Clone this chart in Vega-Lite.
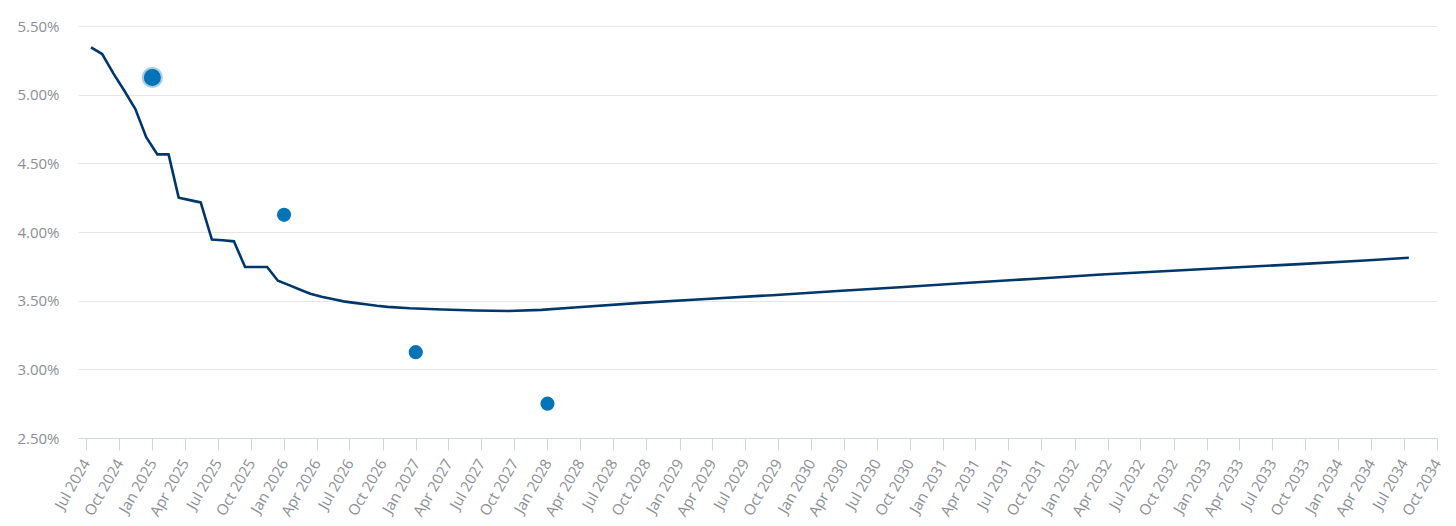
{
  "$schema": "https://vega.github.io/schema/vega-lite/v6.json",
  "width": 1359,
  "height": 412,
  "autosize": {"type": "none"},
  "padding": {"left": 78, "top": 26, "right": 19, "bottom": 88},
  "background": "white",
  "config": {
    "view": {"stroke": null},
    "font": "Open Sans",
    "axis": {"labelFont": "Open Sans", "labelFontSize": 15, "labelColor": "#8c8f96"}
  },
  "datasets": {
    "curve": [
      {"date": "2024-07-15", "rate": 5.345},
      {"date": "2024-08-15", "rate": 5.296},
      {"date": "2024-09-15", "rate": 5.155},
      {"date": "2024-10-15", "rate": 5.03},
      {"date": "2024-11-15", "rate": 4.895},
      {"date": "2024-12-15", "rate": 4.69},
      {"date": "2025-01-15", "rate": 4.565},
      {"date": "2025-02-15", "rate": 4.565},
      {"date": "2025-03-15", "rate": 4.25},
      {"date": "2025-04-15", "rate": 4.232},
      {"date": "2025-05-15", "rate": 4.215},
      {"date": "2025-06-15", "rate": 3.945},
      {"date": "2025-07-15", "rate": 3.94},
      {"date": "2025-08-15", "rate": 3.932},
      {"date": "2025-09-15", "rate": 3.745},
      {"date": "2025-10-15", "rate": 3.745},
      {"date": "2025-11-15", "rate": 3.745},
      {"date": "2025-12-15", "rate": 3.645},
      {"date": "2026-01-15", "rate": 3.613},
      {"date": "2026-02-15", "rate": 3.58},
      {"date": "2026-03-15", "rate": 3.55},
      {"date": "2026-04-15", "rate": 3.528},
      {"date": "2026-05-15", "rate": 3.512},
      {"date": "2026-06-15", "rate": 3.495},
      {"date": "2026-07-15", "rate": 3.484},
      {"date": "2026-08-15", "rate": 3.474},
      {"date": "2026-09-15", "rate": 3.463},
      {"date": "2026-10-15", "rate": 3.455},
      {"date": "2026-12-15", "rate": 3.445},
      {"date": "2027-03-15", "rate": 3.436},
      {"date": "2027-06-15", "rate": 3.428},
      {"date": "2027-09-15", "rate": 3.425},
      {"date": "2027-12-15", "rate": 3.433},
      {"date": "2028-03-15", "rate": 3.45},
      {"date": "2028-09-15", "rate": 3.484},
      {"date": "2029-03-15", "rate": 3.512},
      {"date": "2029-09-15", "rate": 3.54},
      {"date": "2030-03-15", "rate": 3.57},
      {"date": "2030-09-15", "rate": 3.6},
      {"date": "2031-03-15", "rate": 3.63},
      {"date": "2031-09-15", "rate": 3.66},
      {"date": "2032-03-15", "rate": 3.69},
      {"date": "2032-09-15", "rate": 3.716},
      {"date": "2033-03-15", "rate": 3.742},
      {"date": "2033-09-15", "rate": 3.766},
      {"date": "2034-03-15", "rate": 3.792},
      {"date": "2034-07-15", "rate": 3.812}
    ],
    "dots": [
      {"date": "2025-01-01", "rate": 5.125},
      {"date": "2026-01-01", "rate": 4.125},
      {"date": "2027-01-01", "rate": 3.125},
      {"date": "2028-01-01", "rate": 2.75}
    ]
  },
  "encoding": {
    "x": {
      "field": "date",
      "type": "temporal",
      "scale": {
        "type": "utc",
        "domain": [
          {"year": 2024, "month": 6, "date": 9, "utc": true},
          {"year": 2034, "month": 10, "date": 1, "utc": true}
        ]
      },
      "axis": {
        "title": null,
        "grid": false,
        "tickCount": {"interval": "month", "step": 3},
        "labelExpr": "utcFormat(datum.value, '%b %Y')",
        "labelAngle": -60,
        "labelAlign": "right",
        "labelBaseline": "middle",
        "labelPadding": 10,
        "labelOverlap": false,
        "labelFlush": false,
        "domainColor": "#ccd6eb",
        "domainWidth": 1,
        "tickColor": "#ccd6eb",
        "tickSize": 12,
        "tickWidth": 1
      }
    },
    "y": {
      "field": "rate",
      "type": "quantitative",
      "scale": {"domain": [2.5, 5.5], "zero": false, "nice": false},
      "axis": {
        "title": null,
        "values": [2.5, 3, 3.5, 4, 4.5, 5, 5.5],
        "labelExpr": "format(datum.value, '.2f') + '%'",
        "domain": false,
        "ticks": false,
        "labelPadding": 19,
        "gridColor": "#e6e6e6",
        "gridWidth": 1
      }
    }
  },
  "layer": [
    {
      "data": {"name": "curve"},
      "mark": {"type": "line", "color": "#00376b", "strokeWidth": 2.6, "strokeJoin": "miter"}
    },
    {
      "data": {"name": "dots"},
      "transform": [{"filter": "year(datum.date) == 2025"}],
      "mark": {"type": "point", "filled": true, "shape": "circle", "size": 450, "color": "#0474b6", "opacity": 0.35}
    },
    {
      "data": {"name": "dots"},
      "transform": [{"filter": "year(datum.date) == 2025"}],
      "mark": {"type": "point", "filled": true, "shape": "circle", "size": 290, "color": "#0474b6", "opacity": 1}
    },
    {
      "data": {"name": "dots"},
      "mark": {"type": "point", "filled": true, "shape": "circle", "size": 200, "color": "#0474b6", "opacity": 1}
    }
  ]
}
